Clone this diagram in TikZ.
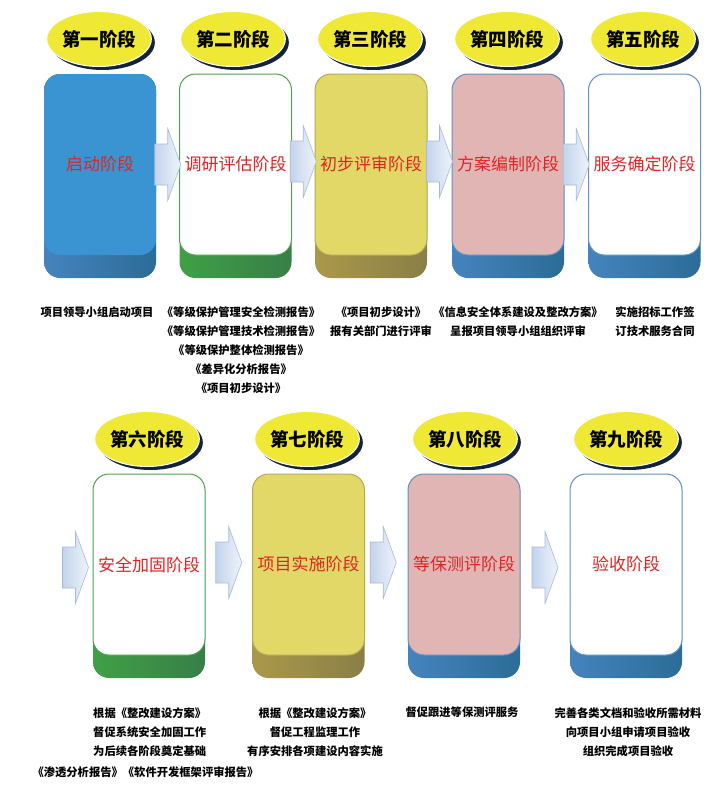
\documentclass[tikz,border=0pt]{standalone}
\usepackage{fontspec}
\setmainfont{Noto Sans CJK SC}
\usetikzlibrary{arrows.meta, positioning, shapes.geometric, shadows, calc}

\definecolor{badgeyellow}{HTML}{EFE936}
\definecolor{badgeshadow}{HTML}{14233A}
\definecolor{stagered}{HTML}{E02424}
\definecolor{blueface}{HTML}{3A94D1}
\definecolor{bluebasel}{HTML}{4583BD}
\definecolor{bluebaser}{HTML}{2C6C97}
\definecolor{blueline}{HTML}{5F90C6}
\definecolor{greenbasel}{HTML}{40A046}
\definecolor{greenbaser}{HTML}{387E48}
\definecolor{greenline}{HTML}{4CA24C}
\definecolor{yellowface}{HTML}{E1D868}
\definecolor{olivebasel}{HTML}{AA984A}
\definecolor{olivebaser}{HTML}{897F47}
\definecolor{oliveline}{HTML}{B9A955}
\definecolor{pinkface}{HTML}{E2B5B5}
\definecolor{arrowl}{HTML}{C4D4EC}
\definecolor{arrowr}{HTML}{EEF3FA}
\definecolor{arrowedge}{HTML}{A9BAD6}

\begin{document}
\begin{tikzpicture}[x=1pt, y=1pt,
  base/.style={rounded corners=16pt, minimum width=112pt, minimum height=204pt, inner sep=0pt},
  face/.style={rounded corners=16pt, minimum width=112pt, minimum height=181pt, inner sep=0pt,
    line width=1pt, text=stagered, font=\fontsize{17}{20}\selectfont},
  badge/.style={ellipse, fill=badgeyellow, draw=white, line width=1pt, minimum width=95pt,
    minimum height=55pt, inner sep=0pt, font=\fontsize{18.5}{20}\selectfont\bfseries,
    drop shadow={shadow xshift=3.5pt, shadow yshift=-3.5pt, fill=badgeshadow, opacity=1}},
  arrowpath/.style={draw=arrowedge, line width=0.6pt, left color=arrowl, right color=arrowr},
  blockarrow/.pic={\draw[arrowpath] (-13,-20.5) -- (0,-20.5) -- (0,-36) -- (13,0)
    -- (0,36) -- (0,20.5) -- (-13,20.5) -- cycle;},
  note/.style={inner sep=0pt, align=center, font=\fontsize{11.3}{19}\selectfont\bfseries}]
  \useasboundingbox (0,0) rectangle (718,-801);

  % první řada
  \begin{scope}
    \node[base, left color=bluebasel, right color=bluebaser] (b1) at (100,-176) {};
    \node[face, fill=blueface] (f1) at (100,-164.5) {启动阶段};
    \node[badge] (s1) at (99,-39) {第一阶段};

    \node[base, left color=greenbasel, right color=greenbaser] (b2) at (235.5,-176) {};
    \node[face, fill=white, draw=greenline] (f2) at (235.5,-164.5) {调研评估阶段};
    \node[badge] (s2) at (233,-39) {第二阶段};

    \node[base, left color=olivebasel, right color=olivebaser] (b3) at (371,-176) {};
    \node[face, fill=yellowface, draw=oliveline] (f3) at (371,-164.5) {初步评审阶段};
    \node[badge] (s3) at (370,-39) {第三阶段};

    \node[base, left color=bluebasel, right color=bluebaser] (b4) at (508,-176) {};
    \node[face, fill=pinkface, draw=blueline] (f4) at (508,-164.5) {方案编制阶段};
    \node[badge] (s4) at (507,-39) {第四阶段};

    \node[base, left color=bluebasel, right color=bluebaser] (b5) at (644.5,-176) {};
    \node[face, fill=white, draw=blueline] (f5) at (644.5,-164.5) {服务确定阶段};
    \node[badge] (s5) at (643,-39) {第五阶段};

    \pic (a12) at ($(f1.east)!.5!(f2.west)$) {blockarrow};
    \pic (a23) at ($(f2.east)!.5!(f3.west)+(0,3)$) {blockarrow};
    \pic (a34) at ($(f3.east)!.5!(f4.west)+(0,3)$) {blockarrow};
    \pic (a45) at ($(f4.east)!.5!(f5.west)$) {blockarrow};

    \node[note] (d1) at (97,-312) {项目领导小组启动项目};
    \node[note] (d2) at (241,-350) {《等级保护管理安全检测报告》\\《等级保护管理技术检测报告》\\《等级保护整体检测报告》\\《差异化分析报告》\\《项目初步设计》};
    \node[note] (d3) at (381,-322) {《项目初步设计》\\报有关部门进行评审};
    \node[note] (d4) at (518,-322) {《信息安全体系建设及整改方案》\\呈报项目领导小组组织评审};
    \node[note] (d5) at (655,-322) {实施招标工作签\\订技术服务合同};
  \end{scope}

  % druhá řada
  \begin{scope}[yshift=-400pt]
    \node[base, left color=greenbasel, right color=greenbaser] (b6) at (149,-176) {};
    \node[face, fill=white, draw=greenline] (f6) at (149,-164.5) {安全加固阶段};
    \node[badge] (s6) at (147,-39) {第六阶段};

    \node[base, left color=olivebasel, right color=olivebaser] (b7) at (308.5,-176) {};
    \node[face, fill=yellowface, draw=oliveline] (f7) at (308.5,-164.5) {项目实施阶段};
    \node[badge] (s7) at (307,-39) {第七阶段};

    \node[base, left color=bluebasel, right color=bluebaser] (b8) at (464,-176) {};
    \node[face, fill=pinkface, draw=blueline] (f8) at (464,-164.5) {等保测评阶段};
    \node[badge] (s8) at (465,-39) {第八阶段};

    \node[base, left color=bluebasel, right color=bluebaser] (b9) at (626,-176) {};
    \node[face, fill=white, draw=blueline] (f9) at (626,-164.5) {验收阶段};
    \node[badge] (s9) at (626,-39) {第九阶段};

    \pic (a56) at ($(f6.west)+(-17,-3)$) {blockarrow};
    \pic (a67) at ($(f6.east)!.5!(f7.west)+(0,2)$) {blockarrow};
    \pic (a78) at ($(f7.east)!.5!(f8.west)+(-3,2)$) {blockarrow};
    \pic (a89) at ($(f8.east)!.5!(f9.west)+(0,-3)$) {blockarrow};

    \node[note, align=left, anchor=west] (d6) at (93,-332) {根据《整改建设方案》\\督促系统安全加固工作\\为后续各阶段奠定基础};
    \node[note] (d6b) at (145.5,-372) {《渗透分析报告》《软件开发框架评审报告》};
    \node[note] (d7) at (315,-332) {根据《整改建设方案》\\督促工程监理工作\\有序安排各项建设内容实施};
    \node[note] (d8) at (462,-312) {督促跟进等保测评服务};
    \node[note] (d9) at (628,-332) {完善各类文档和验收所需材料\\向项目小组申请项目验收\\组织完成项目验收};
  \end{scope}
\end{tikzpicture}
\end{document}
